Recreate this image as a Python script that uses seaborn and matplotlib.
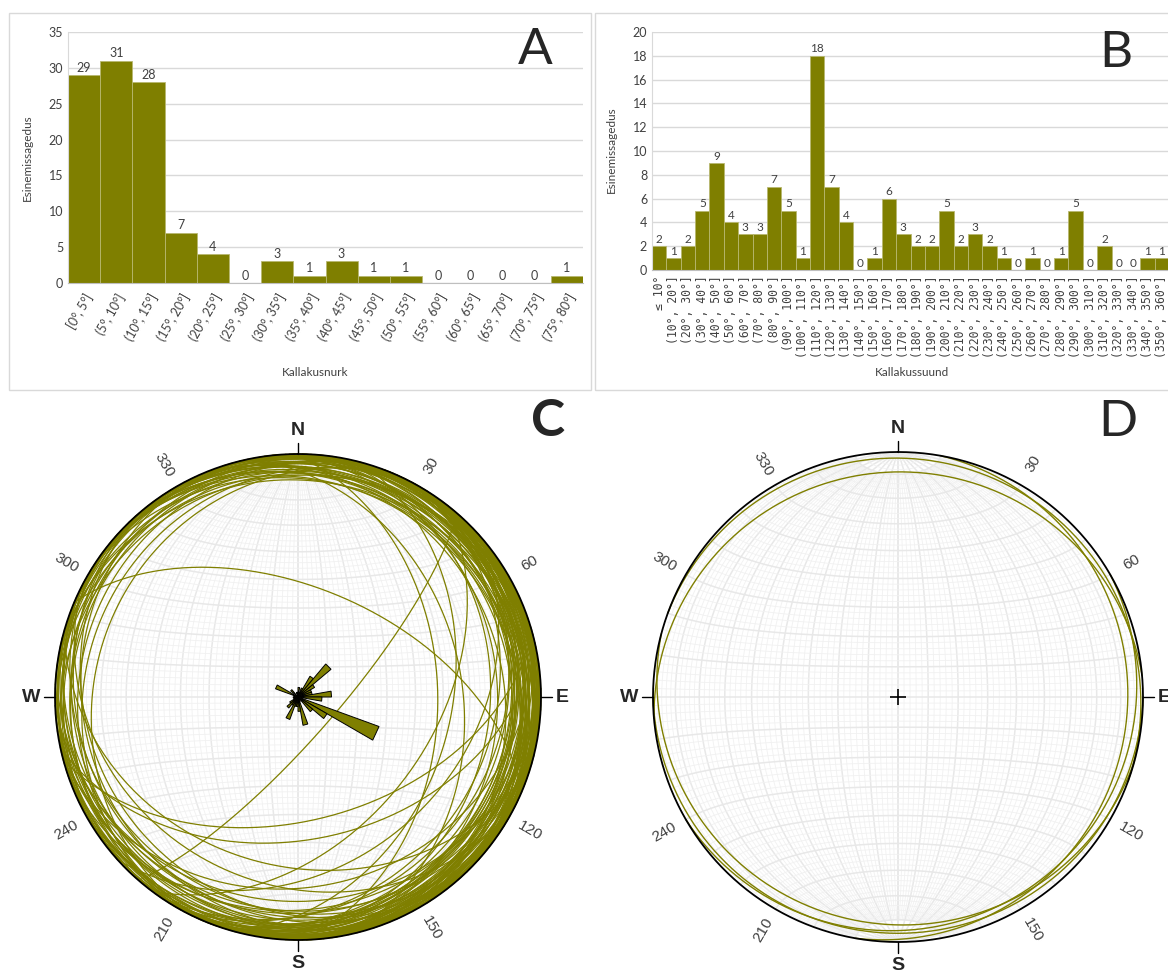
import matplotlib
matplotlib.use("Agg")
import matplotlib.pyplot as plt
import numpy as np
import seaborn as sns
from matplotlib.patches import Rectangle, Polygon

# --- A: dip angle histogram ---
dip_bins = ["[0°, 5°]", "(5°, 10°]", "(10°, 15°]", "(15°, 20°]", "(20°, 25°]",
            "(25°, 30°]", "(30°, 35°]", "(35°, 40°]", "(40°, 45°]", "(45°, 50°]",
            "(50°, 55°]", "(55°, 60°]", "(60°, 65°]", "(65°, 70°]", "(70°, 75°]",
            "(75°, 80°]"]
dip_counts = [29, 31, 28, 7, 4, 0, 3, 1, 3, 1, 1, 0, 0, 0, 0, 1]

# --- B: dip direction histogram ---
dir_bins = ["≤ 10°", "(10°, 20°]", "(20°, 30°]", "(30°, 40°]", "(40°, 50°]",
            "(50°, 60°]", "(60°, 70°]", "(70°, 80°]", "(80°, 90°]", "(90°, 100°]",
            "(100°, 110°]", "(110°, 120°]", "(120°, 130°]", "(130°, 140°]",
            "(140°, 150°]", "(150°, 160°]", "(160°, 170°]", "(170°, 180°]",
            "(180°, 190°]", "(190°, 200°]", "(200°, 210°]", "(210°, 220°]",
            "(220°, 230°]", "(230°, 240°]", "(240°, 250°]", "(250°, 260°]",
            "(260°, 270°]", "(270°, 280°]", "(280°, 290°]", "(290°, 300°]",
            "(300°, 310°]", "(310°, 320°]", "(320°, 330°]", "(330°, 340°]",
            "(340°, 350°]", "(350°, 360°]"]
dir_counts = [2, 1, 2, 5, 9, 4, 3, 3, 7, 5, 1, 18, 7, 4, 0, 1, 6, 3, 2, 2,
              5, 2, 3, 2, 1, 0, 1, 0, 1, 5, 0, 2, 0, 0, 1, 1]

# --- C: all planes (dip direction, dip), estimated ---
steep_dd = [131, 23, 165, 89, 127, 168, 105, 78, 138, 196, 97, 119, 165, 207,
            68, 87, 116, 125, 178, 228, 295]
steep_dip = [77, 53, 48, 42, 44, 41, 37, 33, 32, 31, 22, 21, 23, 24,
             17, 19, 16, 18, 17, 16, 18]
flat_dd = [3, 7, 14, 27, 31, 33, 35, 37, 39, 41, 42, 43, 45, 46, 47, 48, 48, 49,
           51, 53, 56, 58, 62, 66, 72, 76, 81, 82, 84, 85, 88, 91, 93, 95, 98,
           110, 111, 111, 112, 112, 113, 113, 114, 114, 115, 116, 116, 117, 118,
           118, 119, 121, 122, 124, 126, 128, 133, 136, 155, 161, 163, 167, 172,
           176, 183, 187, 194, 201, 203, 205, 209, 212, 217, 222, 226, 232, 237,
           245, 265, 285, 291, 293, 296, 299, 313, 318, 344, 356]
flat_dip = [2, 8, 12, 4, 7, 13, 1, 9, 11, 3, 6, 14, 2, 8, 12, 4, 9, 13,
            1, 7, 11, 3, 8, 14, 2, 6, 12, 4, 9, 13, 1, 7, 11, 3, 8,
            14, 2, 6, 12, 4, 9, 13, 1, 7, 11, 3, 8, 14, 2,
            6, 12, 4, 9, 13, 1, 7, 11, 3, 8, 14, 2, 6, 12,
            4, 9, 13, 1, 7, 11, 3, 8, 14, 2, 6, 12, 4, 9,
            13, 1, 7, 11, 3, 8, 14, 2, 6, 10, 9]

# --- D: selected planes ---
d_dd = [355, 20, 100, 150, 180, 195]
d_dip = [9, 3, 7, 6, 4, 8]

olive = "#7f7f00"
deg_labels = [30, 60, 120, 150, 210, 240, 300, 330]

sns.set_style("white")
plt.rcParams["font.family"] = ["Lato", "DejaVu Sans"]

W, H = 1168, 973
fig = plt.figure(figsize=(W / 100, H / 100), dpi=100)


def px_box(x0, y0, x1, y1):
    return [x0 / W, 1 - y1 / H, (x1 - x0) / W, (y1 - y0) / H]


# panel frames
for x0, x1 in [(9, 591), (595, 1175)]:
    fig.patches.append(Rectangle((x0 / W, 1 - 390 / H), (x1 - x0) / W, (390 - 13) / H,
                                 transform=fig.transFigure, fill=False,
                                 ec="#d9d9d9", lw=1))


def style_bars(ax, ymax, step):
    ax.set_ylim(0, ymax)
    ax.set_yticks(range(0, ymax + 1, step))
    ax.yaxis.grid(True, color="#d9d9d9", lw=1)
    ax.set_axisbelow(True)
    for s in ["top", "right"]:
        ax.spines[s].set_visible(False)
    ax.spines["left"].set_color("#d9d9d9")
    ax.spines["bottom"].set_color("#bfbfbf")
    ax.tick_params(length=0, labelsize=9, colors="#404040")
    ax.set_xlabel("")
    ax.set_ylabel("")


# A
axA = fig.add_axes(px_box(68, 32, 583, 283))
sns.barplot(x=dip_bins, y=dip_counts, ax=axA, color=olive, width=1,
            saturation=1, edgecolor="#b8b870", linewidth=0.6)
style_bars(axA, 35, 5)
axA.bar_label(axA.containers[0], fontsize=9, padding=1, color="#404040")
axA.set_xlim(-0.5, len(dip_bins) - 0.5)
for lab in axA.get_xticklabels():
    lab.set_rotation(60)
    lab.set_ha("right")
    lab.set_rotation_mode("anchor")
axA.tick_params(axis="x", pad=6)
fig.text(315 / W, 1 - 373 / H, "Kallakusnurk", ha="center", va="center",
         fontsize=8.5, color="#404040")
fig.text(27 / W, 1 - 158 / H, "Esinemissagedus", ha="center", va="center",
         rotation=90, fontsize=8.5, color="#404040")
fig.text(535 / W, 1 - 50 / H, "A", ha="center", va="center", fontsize=37)

# B
axB = fig.add_axes(px_box(652, 32, 1169, 270))
sns.barplot(x=dir_bins, y=dir_counts, ax=axB, color=olive, width=1,
            saturation=1, edgecolor="#b8b870", linewidth=0.6)
style_bars(axB, 20, 2)
axB.bar_label(axB.containers[0], fontsize=8.5, padding=1, color="#404040")
axB.set_xlim(-0.5, len(dir_bins) - 0.5)
for lab in axB.get_xticklabels():
    lab.set_rotation(90)
    lab.set_fontsize(8.3)
    lab.set_family("DejaVu Sans Mono")
axB.tick_params(axis="x", pad=4)
fig.text(912 / W, 1 - 373 / H, "Kallakussuund", ha="center", va="center",
         fontsize=8.5, color="#404040")
fig.text(611 / W, 1 - 150 / H, "Esinemissagedus", ha="center", va="center",
         rotation=90, fontsize=8.5, color="#404040")
fig.text(1116 / W, 1 - 53 / H, "B", ha="center", va="center", fontsize=37)


# --- stereonets (equal-area, lower hemisphere) ---
def project(x, y, z):
    k = 1 / np.sqrt(1 + z)
    return x * k, y * k


def great_circle(dd, dip, n=181):
    t = np.linspace(0, np.pi, n)
    a, d = np.radians(dd), np.radians(dip)
    sx, sy = np.sin(a - np.pi / 2), np.cos(a - np.pi / 2)
    x = np.cos(t) * sx + np.sin(t) * np.sin(a) * np.cos(d)
    y = np.cos(t) * sy + np.sin(t) * np.cos(a) * np.cos(d)
    z = np.sin(t) * np.sin(d)
    return x, y, z


def draw_net(ax):
    cut = np.cos(np.radians(10))
    for dip in range(2, 91, 2):
        major = dip % 10 == 0
        for dd in (90, 270):
            x, y, z = great_circle(dd, dip)
            X, Y = project(x, y, z)
            if not major:
                X = np.where(np.abs(y) > cut, np.nan, X)
            ax.plot(X, Y, color="#e8e8e8" if major else "#f1f1f1",
                    lw=1.1 if major else 0.6, zorder=1)
    psi = np.linspace(0, np.pi, 181)
    for phi in range(2, 179, 2):
        major = phi % 10 == 0
        p = np.radians(phi)
        x = np.sin(p) * np.cos(psi)
        y = np.full_like(psi, np.cos(p))
        z = np.sin(p) * np.sin(psi)
        X, Y = project(x, y, z)
        ax.plot(X, Y, color="#e8e8e8" if major else "#f1f1f1",
                lw=1.1 if major else 0.6, zorder=1)


def draw_frame(ax):
    t = np.linspace(0, 2 * np.pi, 361)
    ax.plot(np.sin(t), np.cos(t), color="black", lw=1.3, zorder=5)
    for az, lab in [(0, "N"), (90, "E"), (180, "S"), (270, "W")]:
        a = np.radians(az)
        ax.plot([np.sin(a), 1.045 * np.sin(a)], [np.cos(a), 1.045 * np.cos(a)],
                color="black", lw=1, zorder=5)
        ha = {0: "center", 90: "left", 180: "center", 270: "right"}[az]
        va = {0: "bottom", 90: "center", 180: "top", 270: "center"}[az]
        ax.text(1.06 * np.sin(a), 1.06 * np.cos(a), lab, ha=ha, va=va,
                fontsize=14, fontweight="bold", family="Liberation Sans")
    for az in deg_labels:
        a = np.radians(az)
        rot = ((90 - az + 90) % 180) - 90
        ax.text(1.1 * np.sin(a), 1.1 * np.cos(a), str(az), ha="center",
                va="center", rotation=rot, fontsize=11, color="#404040",
                family="Liberation Sans")


def stereo_axes(cx, cy, R):
    half = 280
    ax = fig.add_axes(px_box(cx - half, cy - half, cx + half, cy + half))
    ax.set_xlim(-half / R, half / R)
    ax.set_ylim(-half / R, half / R)
    ax.set_aspect("equal")
    ax.axis("off")
    return ax


# C
axC = stereo_axes(298, 697, 243)
draw_net(axC)
for dd, dp in zip(flat_dd + steep_dd, flat_dip + steep_dip):
    X, Y = project(*great_circle(dd, dp))
    axC.plot(X, Y, color=olive, lw=0.9, zorder=3)
draw_frame(axC)
rose_scale = 0.355 / max(dir_counts)
for i, c in enumerate(dir_counts):
    if c == 0:
        continue
    a0, a1 = np.radians(10 * i), np.radians(10 * i + 10)
    r = c * rose_scale
    axC.add_patch(Polygon([[0, 0], [r * np.sin(a0), r * np.cos(a0)],
                           [r * np.sin(a1), r * np.cos(a1)]],
                          fc=olive, ec="black", lw=0.7, zorder=6))
fig.text(548 / W, 1 - 422 / H, "C", ha="center", va="center", fontsize=37,
         fontweight="bold")

# D
axD = stereo_axes(898, 697, 245)
draw_net(axD)
for dd, dp in zip(d_dd, d_dip):
    X, Y = project(*great_circle(dd, dp))
    axD.plot(X, Y, color=olive, lw=1.0, zorder=3)
draw_frame(axD)
axD.plot([0], [0], marker="+", ms=12, mew=1.2, color="black", zorder=6)
fig.text(1118 / W, 1 - 422 / H, "D", ha="center", va="center", fontsize=37)

fig.savefig("out.png", dpi=100, facecolor="white")
